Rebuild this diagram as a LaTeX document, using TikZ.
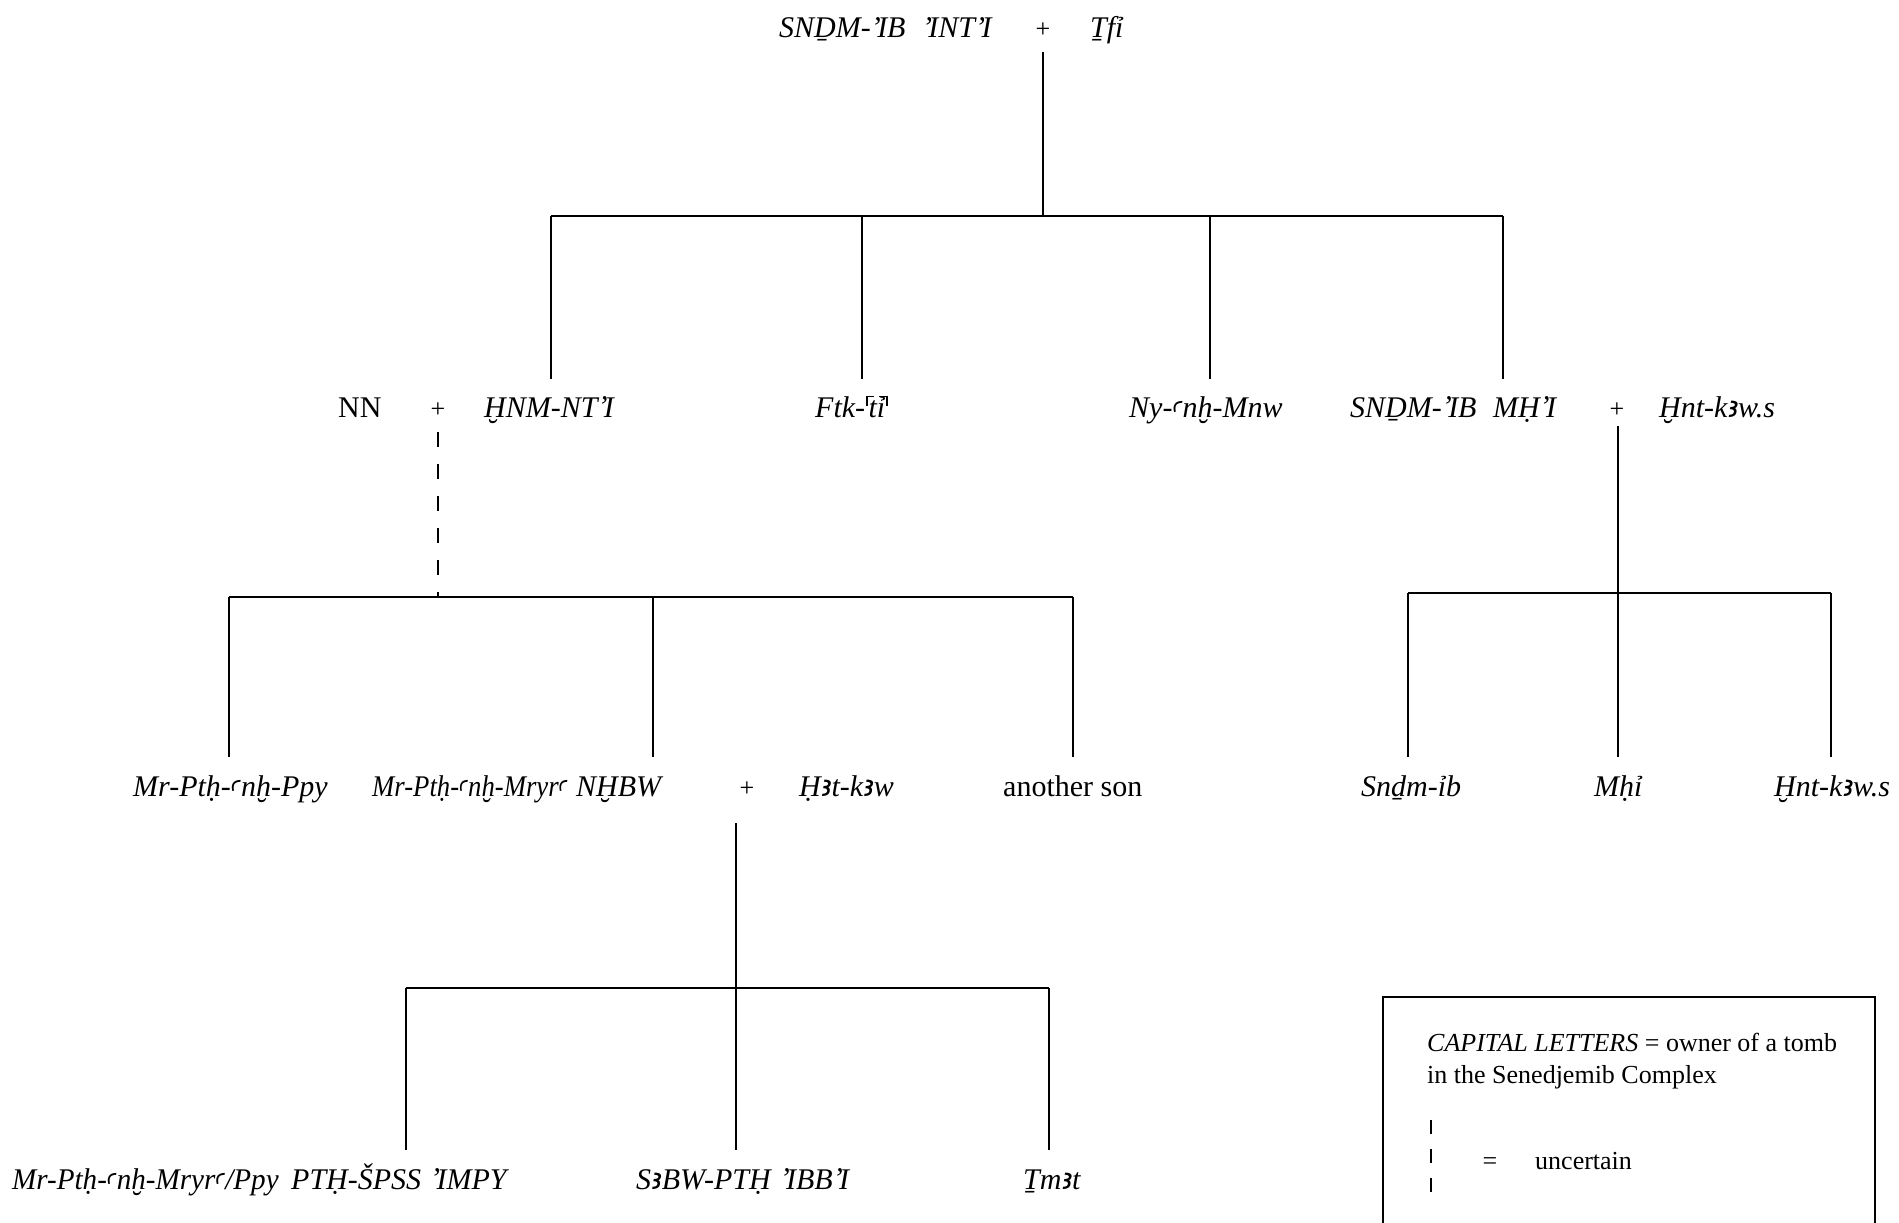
\documentclass[tikz,border=0pt]{standalone}
\usepackage{graphicx}
\usepackage{fontspec}
\setmainfont{Liberation Serif}
\newfontfamily\egA{DejaVu Sans}
\newfontfamily\egB{Noto Sans}
% Egyptological letters: take them from the first font that has them
\newcommand\eglyph[2]{%
  \iffontchar\font#1\relax\char#1\relax\else
  {\egA\iffontchar\font#1\relax\char#1\relax\else
   \egB\iffontchar\font#1\relax\char#1\relax\else #2\fi\fi}\fi}
\newcommand\alef{\eglyph{"A723}{ȝ}}
\newcommand\ayin{\raisebox{0.12em}{\scalebox{0.72}{\eglyph{"A725}{c}}}}
\newcommand\Yod{{\raisebox{0.02em}{’}\kern-0.12em I}}
% half brackets for restored signs
\newcommand\lhb{\kern0.04em\rlap{\rule[0.66em]{0.24em}{0.045em}}\rule[0.38em]{0.045em}{0.325em}\kern0.03em}
\newcommand\rhb{\kern0.03em\llap{\rule[0.66em]{0.24em}{0.045em}}\rule[0.38em]{0.045em}{0.325em}\kern0.04em}
\newcommand\narrow[2]{\scalebox{#1}[1]{#2}}
\begin{document}
\begin{tikzpicture}[x=1pt,y=-1pt,
  it/.style={anchor=base west,inner sep=0pt,font=\fontsize{30}{36}\selectfont\itshape},
  rm/.style={anchor=base west,inner sep=0pt,font=\fontsize{30}{36}\selectfont},
  plus/.style={anchor=base,inner sep=0pt,font=\fontsize{26}{30}\selectfont},
  leg/.style={anchor=base west,inner sep=0pt,font=\fontsize{26}{31}\selectfont},
  famline/.style={line width=1.8pt},
  uncert/.style={line width=1.8pt,dash pattern=on 15pt off 17pt}]
\useasboundingbox (0,0) rectangle (1899,1223);

% ---- generation 1
\node[it] (anti) at (779,38) {SNḎM-\Yod B\hspace{0.55em}\Yod NT\Yod};
\node[plus] (p1) at (1043,38) {+};
\node[it] (tfi) at (1090,38) {Ṯfỉ};

% ---- generation 2
\node[rm] (nn) at (338,417) {NN};
\node[plus] (p2) at (438,417) {+};
\node[it] (khnum) at (484,417) {ḪNM-NT\Yod};
\node[it] (ftk) at (815,417) {Ftk-\lhb tỉ\rhb};
\node[it] (nyankh) at (1129,417) {Ny-\ayin nḫ-Mnw};
\node[it] (mehi) at (1350,417) {SNḎM-\Yod B\hspace{0.55em}MḤ\Yod};
\node[plus] (p3) at (1617,417) {+};
\node[it] (khentk) at (1659,417) {Ḫnt-k\alef w.s};

% ---- generation 3
\node[it] (mrppy) at (133,796) {Mr-Ptḥ-\ayin nḫ-Ppy};
\node[it] (mrmry) at (372,796) {\narrow{0.89}{Mr-Ptḥ-\ayin nḫ-Mryr\ayin}};
\node[it] (nekhebu) at (576,796) {NḪBW};
\node[plus] (p4) at (747,796) {+};
\node[it] (hetk) at (799,796) {Ḥ\alef t-k\alef w};
\node[rm] (other) at (1003,796) {another son};
\node[it] (snedj) at (1361,796) {Snḏm-ỉb};
\node[it] (mhi) at (1594,796) {Mḥỉ};
\node[it] (khent2) at (1774,796) {Ḫnt-k\alef w.s};

% ---- generation 4
\node[it] (mrpp2) at (12,1189) {\narrow{0.97}{Mr-Ptḥ-\ayin nḫ-Mryr\ayin/Ppy}};
\node[it] (impy) at (291,1189) {PTḤ-ŠPSS\hspace{0.3em}\Yod MPY};
\node[it] (izezi) at (636,1189) {S\alef BW-PTḤ\hspace{0.3em}\Yod BB\Yod};
\node[it] (tjemat) at (1023,1189) {Ṯm\alef t};

% ---- family lines, generation 1 to 2
\coordinate (c1) at (1043,52);
\coordinate (j1) at (1043,216);
\coordinate (d1a) at (551,379);
\coordinate (d1b) at (862,379);
\coordinate (d1c) at (1210,379);
\coordinate (d1d) at (1503,379);
\draw[famline] (c1) -- (j1);
\draw[famline] (d1a |- j1) -- (d1d |- j1);
\foreach \d in {d1a,d1b,d1c,d1d} \draw[famline] (\d |- j1) -- (\d);

% ---- NN + Khnumenti (uncertain descent)
\coordinate (c2) at (438,432);
\coordinate (j2) at (438,597);
\coordinate (d2a) at (229,757);
\coordinate (d2b) at (653,757);
\coordinate (d2c) at (1073,757);
\draw[uncert] (c2) -- (j2);
\draw[famline] (d2a |- j2) -- (d2c |- j2);
\foreach \d in {d2a,d2b,d2c} \draw[famline] (\d |- j2) -- (\d);

% ---- Senedjemib Mehi + Khentkaus
\coordinate (c3) at (1618,426);
\coordinate (j3) at (1618,593);
\coordinate (d3a) at (1408,757);
\coordinate (d3b) at (1618,757);
\coordinate (d3c) at (1831,757);
\draw[famline] (c3) -- (d3b);
\draw[famline] (d3a |- j3) -- (d3c |- j3);
\foreach \d in {d3a,d3c} \draw[famline] (\d |- j3) -- (\d);

% ---- Nekhebu + Hetkau
\coordinate (c4) at (736,823);
\coordinate (j4) at (736,988);
\coordinate (d4a) at (406,1150);
\coordinate (d4b) at (736,1150);
\coordinate (d4c) at (1049,1150);
\draw[famline] (c4) -- (d4b);
\draw[famline] (d4a |- j4) -- (d4c |- j4);
\foreach \d in {d4a,d4c} \draw[famline] (\d |- j4) -- (\d);

% ---- key
\coordinate (k1) at (1383,1223);
\coordinate (k2) at (1383,997);
\coordinate (k3) at (1875,997);
\coordinate (k4) at (1875,1223);
\draw[line width=1.6pt] (k1) -- (k2) -- (k3) -- (k4);
\node[leg] (key1) at (1427,1051) {\textit{CAPITAL LETTERS} = owner of a tomb};
\node[leg] (key2) at (1427,1083) {in the Senedjemib Complex};
\foreach \y in {1127,1156,1185} \draw[line width=1.6pt] (1431,\y-7) -- (1431,\y+7);
\node[leg,anchor=base] (keyeq) at (1490,1169) {=};
\node[leg] (key3) at (1535,1169) {uncertain};
\end{tikzpicture}
\end{document}
